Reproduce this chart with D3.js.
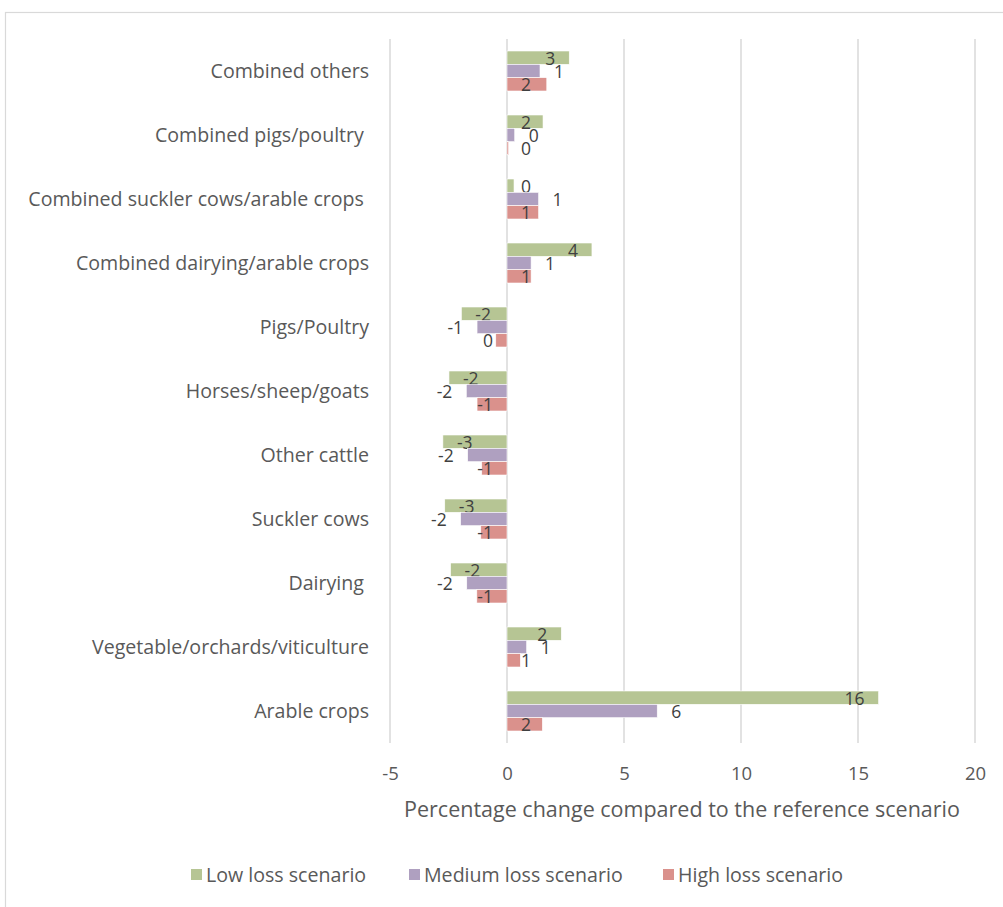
<!DOCTYPE html>
<html>
<head>
<meta charset="utf-8">
<script src="https://cdn.jsdelivr.net/npm/d3@7"></script>
<style>
  html, body { margin: 0; padding: 0; background: #fff; }
  svg { display: block; }
  text { font-family: "Open Sans", sans-serif; white-space: pre; }
</style>
</head>
<body>
<svg id="chart" width="1003" height="907"></svg>
<script>
const categories = [
  "Combined others",
  "Combined pigs/poultry ",
  "Combined suckler cows/arable crops ",
  "Combined dairying/arable crops",
  "Pigs/Poultry",
  "Horses/sheep/goats",
  "Other cattle",
  "Suckler cows",
  "Dairying ",
  "Vegetable/orchards/viticulture",
  "Arable crops"
];
const seriesNames = ["Low loss scenario", "Medium loss scenario", "High loss scenario"];
const lowLoss    = [2.66, 1.54, 0.30, 3.63, -1.95, -2.48, -2.74, -2.66, -2.41, 2.32, 15.88];
const mediumLoss = [1.41, 0.33, 1.35, 1.03, -1.28, -1.74, -1.68, -1.98, -1.72, 0.84, 6.42];
const highLoss   = [1.70, 0.07, 1.35, 1.03, -0.48, -1.28, -1.08, -1.12, -1.29, 0.57, 1.51];
const xTicks = [-5, 0, 5, 10, 15, 20];
const axisTitle = "Percentage change compared to the reference scenario";
const colors = ["#b6c594", "#afa0c0", "#da918c"];
const labelModes = ["insideEnd", "outsideEnd", "insideBase"];

const seriesValues = [lowLoss, mediumLoss, highLoss];
const svg = d3.select("#chart");
const numText = v => { const r = Math.round(v); return String(r === 0 ? 0 : r); };

// frame
svg.append("rect").attr("x", 5.5).attr("y", 12.5).attr("width", 1010).attr("height", 910)
  .attr("fill", "none").attr("stroke", "#d9d9d9").attr("stroke-width", 1.2);

const x = d3.scaleLinear().domain([-5, 20]).range([390, 975]);
const y = d3.scaleBand().domain(categories).range([39, 743]);
const inner = d3.scaleBand().domain(seriesNames).range([0, y.bandwidth() * 0.625]);
const groupOffset = (y.bandwidth() - inner.range()[1]) / 2;

// gridlines
svg.append("g").selectAll("line").data(xTicks).join("line")
  .attr("x1", d => x(d)).attr("x2", d => x(d))
  .attr("y1", 39).attr("y2", 743)
  .attr("stroke", "#d9d9d9").attr("stroke-width", 1.5);

// x axis tick labels
const xAxis = d3.axisBottom(x).tickValues(xTicks).tickSize(0).tickPadding(0).tickFormat(numText);
const gx = svg.append("g").attr("transform", "translate(0,780)").call(xAxis);
gx.select(".domain").remove();
gx.selectAll("text").attr("font-size", 18.5).attr("fill", "#595959")
  .attr("font-family", "Open Sans, sans-serif").attr("dy", 0);

svg.append("text").attr("x", 682).attr("y", 817).attr("text-anchor", "middle")
  .attr("font-size", 21.5).attr("fill", "#595959").text(axisTitle);

// category labels
const yAxis = d3.axisLeft(y).tickSize(0).tickPadding(0);
const gy = svg.append("g").attr("transform", "translate(369,0)").call(yAxis);
gy.select(".domain").remove();
gy.selectAll("text").attr("font-size", 19.6).attr("fill", "#595959")
  .attr("font-family", "Open Sans, sans-serif").attr("dy", "0.35em")
  .style("white-space", "pre");

// bars
seriesNames.forEach((name, si) => {
  const vals = seriesValues[si];
  const g = svg.append("g");
  g.selectAll("rect").data(vals).join("rect")
    .attr("x", d => x(Math.min(0, d)))
    .attr("width", d => Math.abs(x(d) - x(0)))
    .attr("y", (d, i) => y(categories[i]) + groupOffset + inner(name))
    .attr("height", inner.bandwidth())
    .attr("fill", colors[si])
    .attr("stroke", "#fff").attr("stroke-width", 0.6);

  g.selectAll("text").data(vals).join("text")
    .attr("font-size", 17.5).attr("fill", "#404040")
    .attr("y", (d, i) => y(categories[i]) + groupOffset + inner(name) + inner.bandwidth() / 2)
    .attr("dy", "0.4em")
    .text(numText)
    .each(function(d) {
      const el = d3.select(this);
      const w = this.getComputedTextLength();
      const pad = 14;
      const len = Math.abs(x(d) - x(0));
      let mode = labelModes[si];
      if (mode === "insideEnd" && len < w + 2 * pad) mode = "insideBase";
      let cx;
      if (mode === "insideEnd") {
        cx = d >= 0 ? x(d) - pad - w / 2 : x(d) + pad + w / 2;
      } else if (mode === "outsideEnd") {
        cx = d >= 0 ? x(d) + pad + w / 2 : x(d) - pad - w / 2;
      } else {
        cx = d >= 0 ? x(0) + pad + w / 2 : x(0) - pad - w / 2;
      }
      el.attr("x", cx).attr("text-anchor", "middle");
    });
});

// legend
const legendX = [191, 409, 663];
const lg = svg.append("g");
seriesNames.forEach((name, i) => {
  lg.append("rect").attr("x", legendX[i]).attr("y", 869).attr("width", 11).attr("height", 11)
    .attr("fill", colors[i]);
  lg.append("text").attr("x", legendX[i] + 15).attr("y", 875).attr("dy", "0.35em")
    .attr("font-size", 19.6).attr("fill", "#595959").text(name);
});
</script>
</body>
</html>
